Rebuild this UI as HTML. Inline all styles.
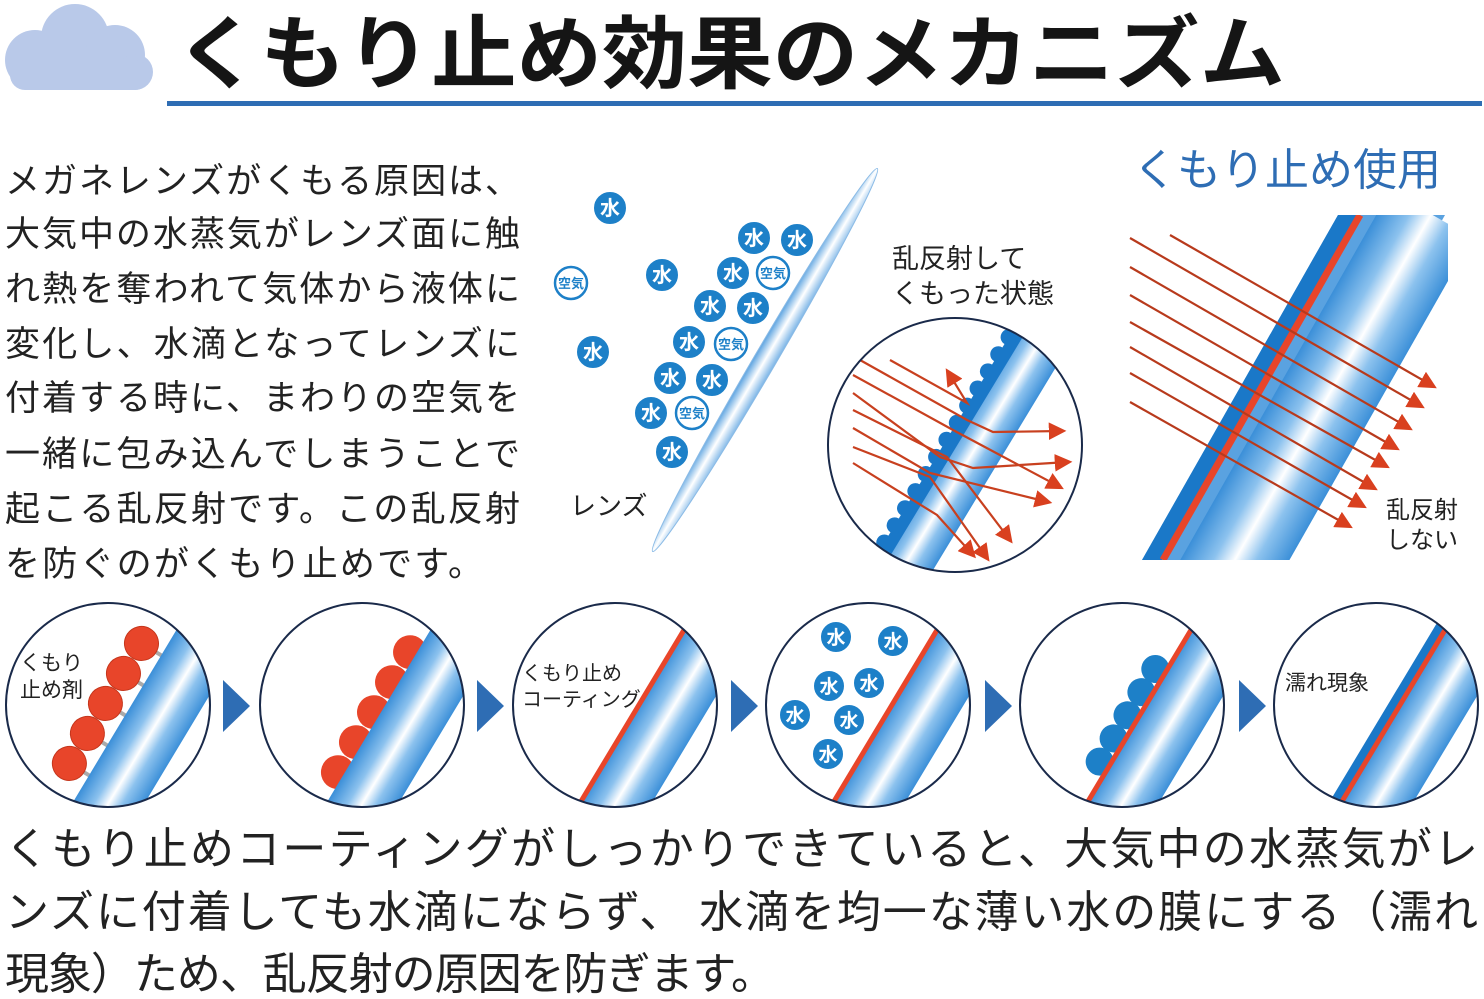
<!DOCTYPE html>
<html><head><meta charset="utf-8"><style>
html,body{margin:0;padding:0;background:#fff;}
svg{display:block;font-family:"Liberation Sans","Noto Sans CJK JP",sans-serif;}
</style></head><body>
<svg width="1484" height="999" viewBox="0 0 1484 999" xmlns="http://www.w3.org/2000/svg">
<defs>
<linearGradient id="bg" x1="0" y1="0" x2="0" y2="1">
<stop offset="0" stop-color="#3b8fd8"/><stop offset="0.3" stop-color="#8cc2ee"/><stop offset="0.5" stop-color="#ffffff"/><stop offset="0.7" stop-color="#8cc2ee"/><stop offset="1" stop-color="#3b8fd8"/>
</linearGradient>
<linearGradient id="lensg" x1="0" y1="0" x2="0" y2="1">
<stop offset="0" stop-color="#5aa2e0"/><stop offset="0.5" stop-color="#ffffff"/><stop offset="1" stop-color="#7ab4e6"/>
</linearGradient>
<clipPath id="cc"><circle cx="0" cy="0" r="102"/></clipPath>
<clipPath id="c2"><circle cx="955" cy="445" r="127"/></clipPath>
<clipPath id="rp"><rect x="1128" y="215" width="320" height="345"/></clipPath>
<marker id="ah" markerWidth="8" markerHeight="8" refX="6" refY="4" orient="auto" markerUnits="strokeWidth"><path d="M0,0 L8,4 L0,8z" fill="#d9401f"/></marker>
</defs>

<!-- cloud -->
<g fill="#b9c9e9">
<circle cx="35" cy="60" r="30"/><circle cx="75" cy="38" r="34"/><circle cx="115" cy="55" r="30"/><circle cx="135" cy="72" r="18"/><rect x="10" y="60" width="140" height="30" rx="15"/>
</g>
<text x="175" y="82" font-size="80" font-weight="bold" fill="#151515" textLength="1110" lengthAdjust="spacingAndGlyphs">くもり止め効果のメカニズム</text>
<rect x="167" y="101" width="1315" height="5" fill="#2e6db4"/>

<!-- left paragraph -->
<g font-size="35" fill="#222">
<text x="5" y="193" textLength="515">メガネレンズがくもる原因は、</text>
<text x="5" y="246" textLength="515">大気中の水蒸気がレンズ面に触</text>
<text x="5" y="301" textLength="515">れ熱を奪われて気体から液体に</text>
<text x="5" y="356" textLength="515">変化し、水滴となってレンズに</text>
<text x="5" y="410" textLength="515">付着する時に、まわりの空気を</text>
<text x="5" y="466" textLength="515">一緒に包み込んでしまうことで</text>
<text x="5" y="521" textLength="515">起こる乱反射です。この乱反射</text>
<text x="5" y="576" textLength="478">を防ぐのがくもり止めです。</text>
</g>

<!-- lens diagram -->
<ellipse cx="765" cy="360" rx="222" ry="11" transform="rotate(-59.6 765 360)" fill="url(#lensg)" stroke="#8bbbe6" stroke-width="1"/>
<g font-size="20" font-weight="bold" fill="#fff" text-anchor="middle">
<g fill="#1d80c8" stroke="#fff" stroke-width="2">
<circle cx="610" cy="208" r="17"/><circle cx="662" cy="275" r="17"/><circle cx="593" cy="352" r="17"/><circle cx="754" cy="238" r="17"/><circle cx="797" cy="240" r="17"/><circle cx="733" cy="273" r="17"/><circle cx="710" cy="306" r="17"/><circle cx="753" cy="308" r="17"/><circle cx="689" cy="342" r="17"/><circle cx="670" cy="378" r="17"/><circle cx="712" cy="380" r="17"/><circle cx="651" cy="413" r="17"/><circle cx="672" cy="452" r="17"/>
</g>
<text x="610" y="215">水</text><text x="662" y="282">水</text><text x="593" y="359">水</text><text x="754" y="245">水</text><text x="797" y="247">水</text><text x="733" y="280">水</text><text x="710" y="313">水</text><text x="753" y="315">水</text><text x="689" y="349">水</text><text x="670" y="385">水</text><text x="712" y="387">水</text><text x="651" y="420">水</text><text x="672" y="459">水</text>
<g fill="#fff" stroke="#1d80c8" stroke-width="2.5">
<circle cx="571" cy="283" r="16"/><circle cx="773" cy="273" r="16"/><circle cx="731" cy="344" r="16"/><circle cx="692" cy="413" r="16"/>
</g>
<g fill="#1d80c8" font-size="13">
<text x="571" y="288">空気</text><text x="773" y="278">空気</text><text x="731" y="349">空気</text><text x="692" y="418">空気</text>
</g>
</g>
<text x="570" y="515" font-size="26" fill="#222">レンズ</text>
<text x="892" y="268" font-size="27" fill="#222">乱反射して</text>
<text x="892" y="303" font-size="27" fill="#222">くもった状態</text>

<!-- scatter circle -->
<g clip-path="url(#c2)">
<g transform="translate(955 445) rotate(-58.8)">
<rect x="-160" y="-8" width="320" height="54" fill="url(#bg)"/>
<rect x="-160" y="-10" width="320" height="12" fill="#1a78c8"/>
<g fill="#1a78c8">
<circle cx="-140" cy="-10" r="8"/><circle cx="-120" cy="-10" r="8"/><circle cx="-100" cy="-10" r="8"/><circle cx="-80" cy="-10" r="8"/><circle cx="-60" cy="-10" r="8"/><circle cx="-40" cy="-10" r="8"/><circle cx="-20" cy="-10" r="8"/><circle cx="0" cy="-10" r="8"/><circle cx="20" cy="-10" r="8"/><circle cx="40" cy="-10" r="8"/><circle cx="60" cy="-10" r="8"/><circle cx="80" cy="-10" r="8"/><circle cx="100" cy="-10" r="8"/><circle cx="120" cy="-10" r="8"/><circle cx="140" cy="-10" r="8"/>
</g>
</g>
<g fill="none" stroke="#c8401f" stroke-width="2.2" marker-end="url(#ah)">
<polyline points="890,360 967,403 948,372"/>
<polyline points="860,360 967,420 993,432 1062,431"/>
<polyline points="853,375 953,430 1060,487"/>
<polyline points="853,393 940,457 973,468 1068,462"/>
<polyline points="853,410 947,457 1010,540"/>
<polyline points="853,428 930,473 1048,502"/>
<polyline points="853,447 930,477 987,558"/>
<polyline points="853,463 937,515 973,555"/>
</g>
</g>
<circle cx="955" cy="445" r="127" fill="none" stroke="#1a2a4a" stroke-width="2"/>

<!-- right panel -->
<text x="1133" y="185" font-size="44" fill="#2e6db4">くもり止め使用</text>
<g clip-path="url(#rp)">
<polygon points="1338,215 1445,215 1250,560 1142,560" fill="#5aa2e0"/>
<g transform="translate(1290 387) rotate(-60.4)">
<rect x="-220" y="-10" width="440" height="95" fill="url(#bg)"/>
</g>
<polygon points="1338,215 1358,215 1162,560 1142,560" fill="#1a78c8"/>
<line x1="1163" y1="560" x2="1360" y2="215" stroke="#e8452a" stroke-width="7"/>
<g stroke="#b83a1c" stroke-width="2.2" marker-end="url(#ah)">
<line x1="1170" y1="235" x2="1433" y2="386"/>
<line x1="1130" y1="238" x2="1421" y2="406"/>
<line x1="1130" y1="267" x2="1409" y2="428"/>
<line x1="1130" y1="295" x2="1396" y2="448"/>
<line x1="1130" y1="322" x2="1386" y2="466"/>
<line x1="1130" y1="347" x2="1374" y2="488"/>
<line x1="1130" y1="373" x2="1363" y2="506"/>
<line x1="1130" y1="402" x2="1349" y2="526"/>
</g>
</g>
<text x="1386" y="518" font-size="24" fill="#222">乱反射</text>
<text x="1386" y="548" font-size="24" fill="#222">しない</text>

<!-- bottom circles -->
<!-- 1 -->
<g transform="translate(108 705) rotate(-59)" clip-path="url(#cc)">
<g stroke="#aaa" stroke-width="4"><line x1="-70" y1="10" x2="-70" y2="22"/><line x1="-35" y1="10" x2="-35" y2="22"/><line x1="0" y1="10" x2="0" y2="22"/><line x1="35" y1="10" x2="35" y2="22"/><line x1="70" y1="10" x2="70" y2="22"/></g>
<g fill="#e8452a" stroke="#c5361c"><circle cx="-70" cy="-3" r="17"/><circle cx="-35" cy="-3" r="17"/><circle cx="0" cy="-3" r="17"/><circle cx="35" cy="-3" r="17"/><circle cx="70" cy="-3" r="17"/></g>
<rect x="-130" y="20" width="260" height="62" fill="url(#bg)"/>
</g>
<circle cx="108" cy="705" r="102" fill="none" stroke="#1a2a4a" stroke-width="2"/>
<text x="20" y="670" font-size="21" fill="#222">くもり</text>
<text x="20" y="697" font-size="21" fill="#222">止め剤</text>
<!-- 2 -->
<g transform="translate(362 705) rotate(-59)" clip-path="url(#cc)">
<g fill="#e8452a"><circle cx="-70" cy="14" r="17"/><circle cx="-35" cy="14" r="17"/><circle cx="0" cy="14" r="17"/><circle cx="35" cy="14" r="17"/><circle cx="70" cy="14" r="17"/></g>
<rect x="-130" y="20" width="260" height="62" fill="url(#bg)"/>
</g>
<circle cx="362" cy="705" r="102" fill="none" stroke="#1a2a4a" stroke-width="2"/>
<!-- 3 -->
<g transform="translate(615 705) rotate(-59)" clip-path="url(#cc)">
<rect x="-130" y="20" width="260" height="62" fill="url(#bg)"/>
<rect x="-130" y="18" width="260" height="5" fill="#e8452a"/>
</g>
<circle cx="615" cy="705" r="102" fill="none" stroke="#1a2a4a" stroke-width="2"/>
<text x="522" y="680" font-size="20" fill="#222">くもり止め</text>
<text x="522" y="706" font-size="20" fill="#222">コーティング</text>
<!-- 4 -->
<g transform="translate(868 705) rotate(-59)" clip-path="url(#cc)">
<rect x="-130" y="20" width="260" height="62" fill="url(#bg)"/>
<rect x="-130" y="18" width="260" height="5" fill="#e8452a"/>
</g>
<circle cx="868" cy="705" r="102" fill="none" stroke="#1a2a4a" stroke-width="2"/>
<g fill="#1d80c8" stroke="#fff" stroke-width="2">
<circle cx="836" cy="637" r="16"/><circle cx="893" cy="641" r="16"/><circle cx="829" cy="686" r="16"/><circle cx="869" cy="683" r="16"/><circle cx="795" cy="715" r="16"/><circle cx="849" cy="720" r="16"/><circle cx="828" cy="754" r="16"/>
</g>
<g font-size="19" font-weight="bold" fill="#fff" text-anchor="middle">
<text x="836" y="644">水</text><text x="893" y="648">水</text><text x="829" y="693">水</text><text x="869" y="690">水</text><text x="795" y="722">水</text><text x="849" y="727">水</text><text x="828" y="761">水</text>
</g>
<!-- 5 -->
<g transform="translate(1122 705) rotate(-59)" clip-path="url(#cc)">
<g fill="#1d80c8"><circle cx="-60" cy="10" r="14"/><circle cx="-33" cy="10" r="14"/><circle cx="-6" cy="10" r="14"/><circle cx="21" cy="10" r="14"/><circle cx="48" cy="10" r="14"/></g>
<rect x="-130" y="20" width="260" height="62" fill="url(#bg)"/>
<rect x="-130" y="18" width="260" height="5" fill="#e8452a"/>
</g>
<circle cx="1122" cy="705" r="102" fill="none" stroke="#1a2a4a" stroke-width="2"/>
<!-- 6 -->
<g transform="translate(1376 705) rotate(-59)" clip-path="url(#cc)">
<rect x="-130" y="10" width="260" height="12" fill="#1a78c8"/>
<rect x="-130" y="20" width="260" height="62" fill="url(#bg)"/>
<rect x="-130" y="18" width="260" height="5" fill="#e8452a"/>
</g>
<circle cx="1376" cy="705" r="102" fill="none" stroke="#1a2a4a" stroke-width="2"/>
<text x="1285" y="690" font-size="21" fill="#222">濡れ現象</text>

<!-- triangles -->
<g fill="#2e6db4">
<polygon points="223,680 250,706 223,732"/><polygon points="477,680 504,706 477,732"/><polygon points="731,680 758,706 731,732"/><polygon points="985,680 1012,706 985,732"/><polygon points="1239,680 1266,706 1239,732"/>
</g>

<!-- bottom text -->
<g font-size="44" fill="#222">
<text x="5" y="864" textLength="1473">くもり止めコーティングがしっかりできていると、大気中の水蒸気がレ</text>
<text x="5" y="927" textLength="1473" xml:space="preserve">ンズに付着しても水滴にならず、 水滴を均一な薄い水の膜にする（濡れ</text>
<text x="5" y="989" textLength="770">現象）ため、乱反射の原因を防ぎます。</text>
</g>
</svg>
</body></html>
